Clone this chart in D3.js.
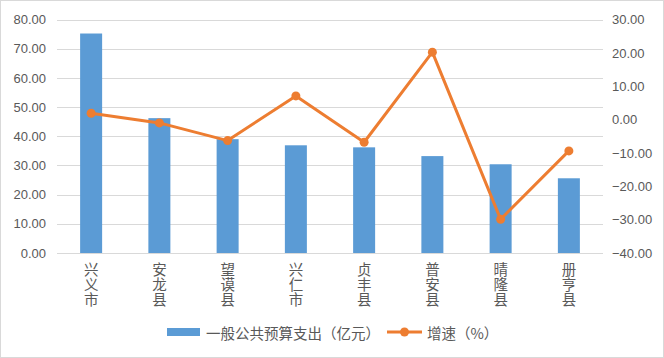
<!DOCTYPE html>
<html><head><meta charset="utf-8">
<script src="https://cdn.jsdelivr.net/npm/d3@7/dist/d3.min.js"></script>
<style>
html,body{margin:0;padding:0;background:#fff;}
svg{display:block;}
</style></head>
<body>
<script>
const categories = ["兴义市","安龙县","望谟县","兴仁市","贞丰县","普安县","晴隆县","册亨县"];
const spending = [75.2, 46.2, 39.0, 36.9, 36.2, 33.2, 30.4, 25.6];
const growth = [1.9, -1.0, -6.3, 7.1, -6.8, 20.2, -29.9, -9.4];
const leftTicks = [0,10,20,30,40,50,60,70,80];
const rightTicks = [-40,-30,-20,-10,0,10,20,30];
const seriesNames = ["一般公共预算支出（亿元）","增速（%）"];

(function(){
const W = 664, H = 358;
const pL = 57, pR = 603, pT = 19.5, pB = 253;
const blue = "#5B9BD5", orange = "#ED7D31", txt = "#595959";
const numFont = "'Liberation Sans', Arial, sans-serif";
const cjkFont = "'Noto Sans CJK SC', sans-serif";

const svg = d3.select("body").append("svg").attr("width", W).attr("height", H);
svg.append("rect").attr("x",0.5).attr("y",0.5).attr("width",W-1).attr("height",H-1)
  .attr("fill","#fff").attr("stroke","#d9d9d9");

const xc = d3.scaleBand().domain(categories).range([pL, pR]);
const yL = d3.scaleLinear().domain([0,80]).range([pB, pT]);
const yR = d3.scaleLinear().domain([-40,30]).range([pB, pT]);

// gridlines
svg.append("g").selectAll("line").data(leftTicks.filter(d=>d>0)).join("line")
  .attr("x1", pL).attr("x2", pR)
  .attr("y1", d=>Math.round(yL(d))+0.5).attr("y2", d=>Math.round(yL(d))+0.5)
  .attr("stroke","#d9d9d9").attr("stroke-width",1);

// bars
svg.append("g").selectAll("rect").data(categories).join("rect")
  .attr("x", (c)=>xc(c)+xc.bandwidth()/2-11)
  .attr("width", 22)
  .attr("y", (c,i)=>yL(spending[i]))
  .attr("height", (c,i)=>yL(0)-yL(spending[i]))
  .attr("fill", blue);

// baseline
svg.append("line").attr("x1",pL).attr("x2",pR)
  .attr("y1",Math.round(yL(0))+0.5).attr("y2",Math.round(yL(0))+0.5)
  .attr("stroke","#d9d9d9").attr("stroke-width",1);

// left axis labels
const axL = d3.axisLeft(yL).tickValues(leftTicks).tickFormat(d3.format(".2f")).tickSize(0).tickPadding(0);
const gL = svg.append("g").attr("transform",`translate(${pL-11},0)`).call(axL);
gL.select(".domain").remove();
gL.selectAll("text").attr("fill",txt).style("font-family",numFont).style("font-size","13px");

// right axis labels
const axR = d3.axisRight(yR).tickValues(rightTicks).tickFormat(d3.format(".2f")).tickSize(0).tickPadding(0);
const gR = svg.append("g").attr("transform",`translate(${pR+9},0)`).call(axR);
gR.select(".domain").remove();
gR.selectAll("text").attr("fill",txt).style("font-family",numFont).style("font-size","13px");

// line
const pts = categories.map((c,i)=>[xc(c)+xc.bandwidth()/2, yR(growth[i])]);
svg.append("path").attr("d", d3.line()(pts)).attr("fill","none")
  .attr("stroke",orange).attr("stroke-width",3).attr("stroke-linejoin","round");
svg.append("g").selectAll("circle").data(pts).join("circle")
  .attr("cx",d=>d[0]).attr("cy",d=>d[1]).attr("r",4.5).attr("fill",orange);

// category labels (vertical text)
svg.append("g").selectAll("text").data(categories).join("text")
  .attr("x", c=>xc(c)+xc.bandwidth()/2)
  .attr("y", 262)
  .attr("fill", txt)
  .style("writing-mode","vertical-rl")
  .style("text-orientation","upright")
  .style("letter-spacing","0.5px")
  .style("font-family",cjkFont).style("font-size","14.5px")
  .text(c=>c);

// legend
const lg = svg.append("g");
lg.append("rect").attr("x",167).attr("y",328).attr("width",33).attr("height",8).attr("fill",blue);
lg.append("text").attr("x",206).attr("y",338.5).attr("fill",txt)
  .style("font-family",cjkFont).style("font-size","14.5px").text(seriesNames[0]);
lg.append("line").attr("x1",387).attr("x2",422).attr("y1",332).attr("y2",332)
  .attr("stroke",orange).attr("stroke-width",3);
lg.append("circle").attr("cx",404.5).attr("cy",332).attr("r",4.5).attr("fill",orange);
lg.append("text").attr("x",427).attr("y",338.5).attr("fill",txt)
  .style("font-family",cjkFont).style("font-size","14.5px").text(seriesNames[1]);
})();
</script>
</body></html>
